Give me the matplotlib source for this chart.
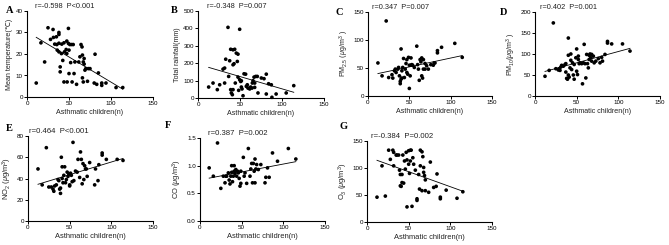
import numpy as np
import matplotlib
matplotlib.use("Agg")
import matplotlib.pyplot as plt

plt.rcParams['font.family'] = ['Liberation Sans', 'DejaVu Sans']
plt.rcParams['mathtext.fontset'] = 'custom'
plt.rcParams['mathtext.rm'] = 'Liberation Sans'
plt.rcParams['mathtext.it'] = 'Liberation Sans:italic'
plt.rcParams['mathtext.bf'] = 'Liberation Sans:bold'

# ---------------- data ----------------
a_x = [11, 16.6, 21, 25, 28, 31, 31.5, 33, 35.5, 35, 38, 38, 38, 36, 38, 39.5, 39.5, 41, 42.6, 41.4,
       44, 44.6, 44, 46.6, 47.4, 47.4, 47.8, 49.3, 50, 49.3, 50, 51, 52, 53, 55, 53.7, 56, 57, 59,
       61.6, 63, 64.3, 65.5, 66, 67, 68, 66, 67, 68, 69, 70, 72, 73, 75, 80, 81, 83, 85, 89, 89, 94,
       106, 114]
a_y = [6.5, 25.2, 16.3, 32.2, 26.8, 31.4, 27.7, 24.6, 24.4, 28, 30, 29.1, 25, 21.8, 21, 14, 11.7,
       20.2, 17, 24.6, 25.2, 21, 7, 22.1, 26, 20.2, 7, 24.9, 21.8, 31.9, 10.9, 24.4, 16, 24.4, 24.4,
       7, 10.9, 16.3, 5.9, 16.3, 18.7, 24.4, 23.3, 19.5, 16.3, 17.9, 8.9, 7, 15.3, 12.5, 13.2, 7.3,
       13.2, 13.2, 6.5, 19.9, 5.9, 11.2, 6.5, 5.4, 6.5, 4.4, 4.4]

b_x = [12.7, 17.9, 23, 25.8, 29.8, 31.7, 33, 31.7, 35.7, 36.5, 37.7, 38.9, 38.9, 39.7, 40.9, 41.7,
       41.7, 41.7, 43.7, 42.9, 44.4, 45.6, 46.8, 47.6, 47.6, 48.4, 49.6, 49.6, 50.8, 51.6, 51.6, 52.4,
       53.6, 54.8, 56.7, 57.5, 58.7, 59.5, 61.5, 62.7, 64.3, 64.7, 65.5, 66.7, 67.5, 67.5, 68.7, 70.6,
       71.4, 75.4, 78.6, 81.3, 81.3, 84, 87.3, 88, 93, 105, 114]
b_y = [63, 86, 48, 76, 166, 172, 223, 86, 406, 124, 214, 280, 48, 29, 19, 277, 191, 48, 280, 197,
       86, 258, 210, 252, 120, 44, 395, 105, 95, 99, 63, 52, 13, 139, 137, 67, 76, 57, 52, 63, 57,
       86, 99, 120, 86, 61, 124, 124, 29, 115, 111, 137, 23, 82, 76, 4, 23, 29, 71]

c_x = [12, 22, 17, 25, 29, 30, 32, 33, 34, 36, 37, 38, 39, 39, 40, 40, 41, 41, 42, 43, 44, 45, 46,
       47, 47, 48, 49, 50, 50, 51, 52, 52, 53, 54, 56, 59, 60, 61, 62, 63, 64, 65, 65, 66, 67, 67,
       69, 69, 71, 73, 76, 79, 80, 81, 84, 84, 89, 105, 114]
c_y = [59, 134, 36, 33, 38, 32, 45, 48, 42, 48, 51, 36, 26, 22, 84, 30, 32, 45, 51, 67, 33, 48, 58,
       42, 65, 39, 69, 13.5, 55, 36, 68, 55, 56, 55, 51, 89, 56, 48, 28, 65, 61, 36, 68, 32, 65, 48,
       58, 48, 54, 48, 56, 55, 59, 59, 77, 81, 87, 94, 69]

d_x = [12, 17, 22, 25, 28, 29, 30, 31, 32, 34, 36, 37, 37, 38, 39, 40, 40, 40, 41, 42, 43, 43, 44,
       45, 46, 47, 47, 49, 50, 50, 51, 52, 52, 53, 54, 56, 57, 58, 59, 60, 61, 62, 63, 64, 65, 65,
       66, 67, 68, 68, 70, 71, 73, 76, 78, 80, 81, 84, 87, 87, 92, 105, 114]
d_y = [47, 61, 174, 65, 62, 65, 61, 69, 73, 71, 75, 77, 57, 42, 40, 138, 97, 50, 45, 67, 100, 85,
       63, 79, 50, 75, 40, 91, 112, 59, 51, 95, 87, 77, 79, 77, 29, 79, 123, 77, 43, 99, 77, 67, 97,
       87, 100, 91, 99, 83, 95, 79, 83, 89, 79, 92, 83, 99, 130, 126, 124, 124, 107]

e_x = [12, 17, 22, 25, 28, 30, 31, 32, 34, 36, 37, 38, 39, 39, 40, 41, 41, 42, 43, 44, 45, 46, 47,
       48, 49, 50, 50, 51, 52, 53, 54, 55, 57, 59, 60, 62, 63, 64, 65, 66, 67, 68, 69, 70, 71, 74,
       80, 81, 84, 85, 89, 89, 94, 107, 114]
e_y = [49, 34, 69, 32, 32, 30, 28, 33, 34, 39, 38, 30, 26, 31, 60, 40, 51, 36, 43, 51, 36, 39, 46,
       42, 44, 34, 33, 45, 43, 37, 74, 38, 47, 46, 58, 41, 65, 58, 35, 54, 39, 52, 49, 49, 42, 55,
       34, 49, 38, 53, 64, 62, 58, 58, 57]

f_x = [11, 16, 21, 25, 28, 30, 31, 32, 34, 35, 36, 37, 38, 38, 39, 40, 41, 41, 42, 43, 44, 45, 46,
       47, 48, 49, 49, 52, 53, 54, 56, 58, 60, 61, 62, 63, 64, 65, 66, 66, 67, 68, 70, 73, 78, 79,
       81, 83, 87, 93, 106, 115]
f_y = [0.96, 0.81, 1.41, 0.59, 0.81, 0.69, 0.81, 0.81, 0.87, 0.74, 0.67, 0.81, 1.0, 0.88, 0.71,
       0.81, 1.0, 0.9, 0.86, 0.93, 0.81, 0.9, 0.87, 0.77, 0.63, 0.9, 0.68, 1.15, 0.81, 0.87, 0.68,
       1.31, 0.81, 0.94, 1.04, 0.69, 1.04, 0.9, 0.69, 1.12, 0.94, 1.02, 0.93, 1.02, 0.69, 0.79,
       0.96, 0.79, 1.23, 1.08, 1.31, 1.12]

g_x = [12, 18, 22, 26, 28, 31, 32, 32, 35, 36, 38, 39, 40, 40, 41, 42, 42, 43, 44, 45, 46, 47, 48,
       48, 50, 50, 51, 52, 52, 53, 54, 55, 56, 58, 60, 60, 62, 63, 64, 64, 66, 66, 67, 68, 68, 69,
       70, 70, 74, 76, 80, 83, 84, 88, 88, 95, 108, 115]
g_y = [46, 104, 48, 133, 116, 133, 129, 104, 124, 124, 124, 96, 88, 67, 66, 88, 73, 124, 72, 113,
       98, 129, 28, 115, 107, 132, 90, 133, 113, 133, 29, 119, 107, 96, 40, 43, 88, 61, 104, 133,
       58, 130, 121, 101, 92, 86, 58, 78, 55, 111, 64, 66, 89, 43, 46, 59, 44, 56]

letters = ['A', 'B', 'C', 'D', 'E', 'F', 'G']
stats = ['r=-0.598  P<0.001', 'r=-0.348  P=0.007', 'r=0.347  P=0.007', 'r=0.402  P=0.001',
         'r=0.464  P<0.001', 'r=0.387  P=0.002', 'r=-0.384  P=0.002']
ylabels = ['Mean temperature(\u2103)', 'Total rainfall(mm)',
           r'PM$_{2.5}$ ($\mu$g/m$^{3}$ )', r'PM$_{10}$($\mu$g/m$^{3}$ )',
           r'NO$_{2}$ ($\mu$g/m$^{3}$)', r'CO ($\mu$g/m$^{3}$)', r'O$_{3}$ ($\mu$g/m$^{3}$)']
xlabel = 'Asthmatic children(n)'
xticks = [0, 50, 100, 150]
yticks = [[0, 10, 20, 30, 40], [0, 100, 200, 300, 400, 500], [0, 50, 100, 150],
          [0, 50, 100, 150, 200], [0, 20, 40, 60, 80], [0.0, 0.5, 1.0, 1.5], [0, 50, 100, 150]]
yticklabels = [None, None, None, None, None, ['0.0', '0.5', '1.0', '1.5'], None]
xs = [a_x, b_x, c_x, d_x, e_x, f_x, g_x]
ys = [a_y, b_y, c_y, d_y, e_y, f_y, g_y]

# ---------------- layout (pixels) ----------------
W, H = 669, 245
boxes = [(27, 153, 11, 97), (198, 324, 11, 98), (368, 492, 12, 96), (535, 660, 12, 96),
         (28, 153, 136, 221), (200, 325, 138, 221), (367, 492, 141, 222)]
letter_pos = [(6, 6), (171, 6), (335, 8), (500, 8), (6, 124), (165, 121), (340, 122)]
stat_off = [8, 9, 4, 5, 1, 8, 4]

fig = plt.figure(figsize=(W / 100, H / 100), dpi=100)
fig.patch.set_facecolor('white')

for i in range(7):
    l, r, t, b = boxes[i]
    ax = fig.add_axes([l / W, (H - b) / H, (r - l) / W, (b - t) / H])
    x = np.array(xs[i], float)
    y = np.array(ys[i], float)
    ax.scatter(x, y, s=7, color='black', edgecolors='none', clip_on=False, zorder=3)
    k, c0 = np.polyfit(x, y, 1)
    xl = np.array([x.min(), x.max()])
    ax.plot(xl, k * xl + c0, color='black', lw=0.6, zorder=2)
    ax.set_xlim(0, 150)
    ax.set_ylim(yticks[i][0], yticks[i][-1])
    ax.set_xticks(xticks)
    ax.set_yticks(yticks[i])
    if yticklabels[i] is not None:
        ax.set_yticklabels(yticklabels[i])
    for s in ['top', 'right']:
        ax.spines[s].set_visible(False)
    for s in ['left', 'bottom']:
        ax.spines[s].set_linewidth(0.8)
    ax.tick_params(axis='both', direction='out', length=2, width=0.7, labelsize=4.5, pad=1)
    bottom = i >= 4
    fs_lab = 5.4 if bottom else 5.1
    ax.set_xlabel(xlabel, fontsize=fs_lab, labelpad=2, color='#222222')
    ax.set_ylabel(ylabels[i], fontsize=fs_lab, labelpad=2, color='#222222')
    ax.text(stat_off[i] / (r - l), 1.01, stats[i], transform=ax.transAxes,
            fontsize=5.6 if bottom else 5.3, ha='left', va='bottom', color='#222222')
    lx, ly = letter_pos[i]
    fig.text(lx / W, (H - ly) / H, letters[i], fontsize=7.5, fontweight='bold',
             family='Liberation Serif', ha='left', va='top')

fig.savefig('out.png', dpi=100, facecolor='white')
